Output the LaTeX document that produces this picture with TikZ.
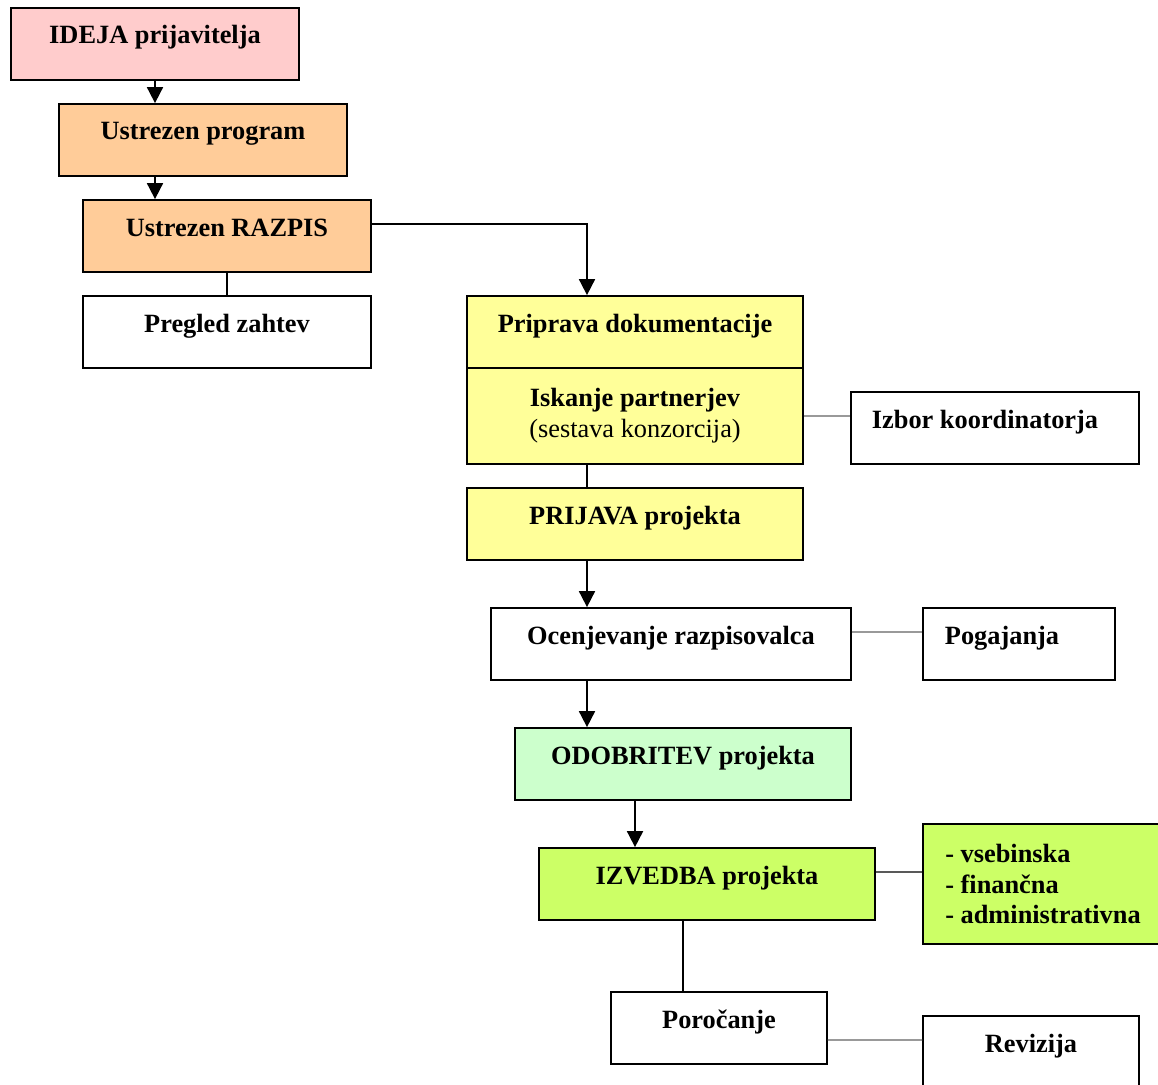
\documentclass[tikz,border=0pt]{standalone}
\usepackage{fontspec}
\setmainfont{Liberation Serif}
\usepackage{tikz}
\usetikzlibrary{arrows.meta}

\definecolor{idejapink}{HTML}{FFCCCC}
\definecolor{razpisorange}{HTML}{FFCC99}
\definecolor{prijavayellow}{HTML}{FFFF99}
\definecolor{odobritevgreen}{HTML}{CCFFCC}
\definecolor{izvedbalime}{HTML}{CCFF66}

\begin{document}
\begin{tikzpicture}[x=0.02cm, y=-0.02cm,
	box/.style={draw, line width=1pt, inner sep=0pt, text height=0pt, text depth=0pt,
		font=\fontsize{15}{17.6}\selectfont\bfseries},
	arr/.style={-{Triangle[length=0.32cm,width=0.32cm]}, line width=1pt},
	link/.style={line width=1pt},
	greylink/.style={line width=1pt, draw=black!40}]
	\useasboundingbox (0,0) rectangle (1158,1084);
	\coordinate (spine) at (587,0);

	%boxes, left column
	\node[box, fill=idejapink, minimum width=5.76cm, minimum height=1.44cm] (ideja) at (155,44) {IDEJA prijavitelja};
	\node[box, fill=razpisorange, minimum width=5.76cm, minimum height=1.44cm] (program) at (203,140) {Ustrezen program};
	\node[box, fill=razpisorange, minimum width=5.76cm, minimum height=1.44cm] (razpis) at (227,236) {Ustrezen RAZPIS};
	\node[box, fill=white, minimum width=5.76cm, minimum height=1.44cm] (pregled) at (227,332) {Pregled zahtev};

	%boxes, middle
	\node[box, fill=prijavayellow, minimum width=6.72cm, minimum height=1.44cm] (priprava) at (635,332) {Priprava dokumentacije};
	\node[box, fill=prijavayellow, minimum width=6.72cm, minimum height=1.92cm, text height={}, text depth={}, align=center] (iskanje) at (635,416)
		{Iskanje partnerjev\\\mdseries(sestava konzorcija)};
	\node[box, fill=prijavayellow, line width=1.6pt, minimum width=6.72cm, minimum height=1.44cm] (prijava) at (635,524) {PRIJAVA projekta};
	\node[box, fill=white, minimum width=7.2cm, minimum height=1.44cm] (ocena) at (671,644) {Ocenjevanje razpisovalca};
	\node[box, fill=odobritevgreen, minimum width=6.72cm, minimum height=1.44cm] (odobritev) at (683,764) {ODOBRITEV projekta};
	\node[box, fill=izvedbalime, minimum width=6.72cm, minimum height=1.44cm] (izvedba) at (707,884) {IZVEDBA projekta};
	\node[box, fill=white, minimum width=4.32cm, minimum height=1.44cm] (porocanje) at (719,1028) {Poročanje};

	%boxes, right
	\node[box, fill=white, minimum width=5.76cm, minimum height=1.44cm] (izbor) at (995,428) {Izbor koordinatorja\kern0.4cm};
	\node[box, fill=white, minimum width=3.84cm, minimum height=1.44cm] (pogajanja) at (1019,644) {Pogajanja\kern0.68cm};
	\node[box, fill=izvedbalime, minimum width=4.8cm, minimum height=2.4cm, text height={}, text depth={}, align=left] (nadzor) at (1043,884)
		{- vsebinska\\- finančna\\- administrativna};
	\node[box, fill=white, minimum width=4.32cm, minimum height=1.44cm] (revizija) at (1031,1052) {Revizija};

	%arrows
	\draw[arr] (ideja.south) -- (ideja.south |- program.north);
	\draw[arr] (program.south -| ideja.south) -- (razpis.north -| ideja.south);
	\draw[arr] ([yshift=0.24cm]razpis.east) -| (priprava.north -| spine);
	\draw[arr] (prijava.south -| spine) -- (ocena.north -| spine);
	\draw[arr] (ocena.south -| spine) -- (odobritev.north -| spine);
	\draw[arr] ([xshift=-0.96cm]odobritev.south) -- ([xshift=-0.96cm]odobritev.south |- izvedba.north);

	%plain lines
	\draw[link] (razpis.south) -- (pregled.north);
	\draw[link] (iskanje.south -| spine) -- (prijava.north -| spine);
	\draw[link] ([xshift=-0.48cm]izvedba.south) -- ([xshift=-0.48cm]izvedba.south |- porocanje.north);
	\draw[link, draw=black!65] ([yshift=0.24cm]izvedba.east) -- ([yshift=0.24cm]izvedba.east -| nadzor.west);

	%grey side lines
	\draw[greylink] (iskanje.east) -- (iskanje.east -| izbor.west);
	\draw[greylink] ([yshift=0.24cm]ocena.east) -- ([yshift=0.24cm]pogajanja.west);
	\draw[greylink] ([yshift=-0.24cm]porocanje.east) -- ([yshift=0.24cm]revizija.west);
\end{tikzpicture}
\end{document}
